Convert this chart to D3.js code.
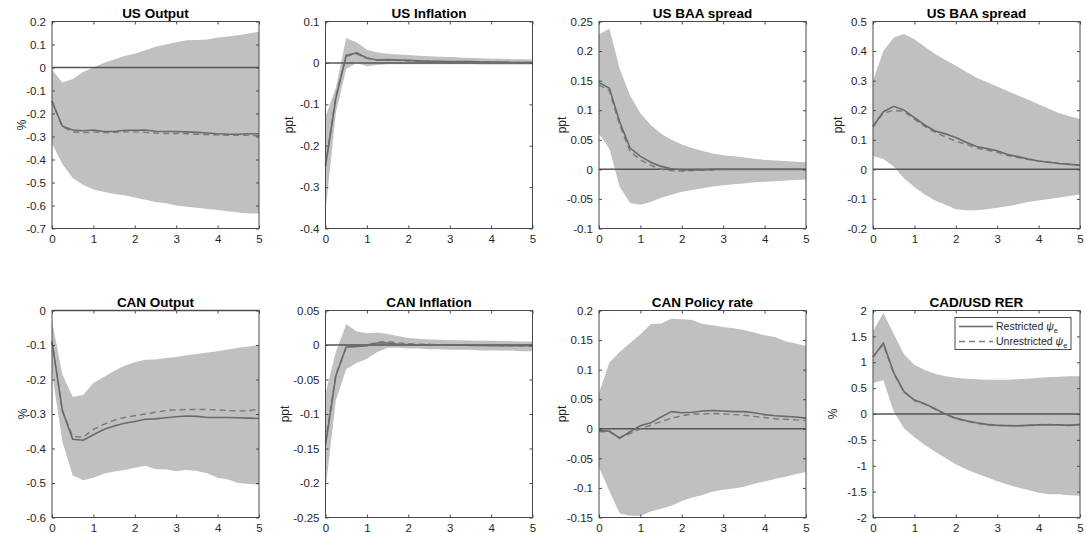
<!DOCTYPE html>
<html>
<head>
<meta charset="utf-8">
<script src="https://cdn.jsdelivr.net/npm/d3@7/dist/d3.min.js"></script>
<style>
  body { margin: 0; background: #fff; }
  text { font-family: "Liberation Sans", Arial, Helvetica, sans-serif; }
</style>
</head>
<body>
<svg id="chart" width="1086" height="533"></svg>
<script>
// quarterly horizon, in years
const horizon = [0, 0.25, 0.5, 0.75, 1, 1.25, 1.5, 1.75, 2, 2.25, 2.5, 2.75, 3, 3.25, 3.5, 3.75, 4, 4.25, 4.5, 4.75, 5];
const xTicks = [0, 1, 2, 3, 4, 5];

// US Output
const usOutSolid  = [-0.148,-0.255,-0.272,-0.275,-0.272,-0.278,-0.278,-0.273,-0.273,-0.272,-0.277,-0.278,-0.278,-0.28,-0.282,-0.285,-0.288,-0.29,-0.29,-0.288,-0.288];
const usOutDashed = [-0.145,-0.258,-0.28,-0.283,-0.28,-0.283,-0.282,-0.28,-0.28,-0.282,-0.285,-0.287,-0.287,-0.288,-0.29,-0.292,-0.293,-0.295,-0.295,-0.295,-0.297];
const usOutHi     = [-0.01,-0.065,-0.05,-0.02,0.0,0.02,0.035,0.05,0.06,0.075,0.09,0.1,0.11,0.118,0.12,0.122,0.13,0.135,0.14,0.148,0.155];
const usOutLo     = [-0.33,-0.42,-0.48,-0.51,-0.53,-0.54,-0.55,-0.555,-0.565,-0.575,-0.585,-0.59,-0.6,-0.605,-0.61,-0.615,-0.62,-0.625,-0.63,-0.635,-0.635];

// US Inflation
const usInfSolid  = [-0.25,-0.085,0.018,0.024,0.012,0.007,0.008,0.007,0.006,0.005,0.004,0.004,0.003,0.003,0.003,0.002,0.002,0.002,0.001,0.001,0.001];
const usInfDashed = [-0.245,-0.08,0.016,0.022,0.011,0.007,0.007,0.006,0.005,0.004,0.004,0.003,0.003,0.003,0.002,0.002,0.002,0.001,0.001,0.001,0.001];
const usInfHi     = [-0.13,-0.06,0.06,0.05,0.032,0.025,0.022,0.02,0.019,0.017,0.016,0.015,0.014,0.013,0.012,0.011,0.01,0.01,0.009,0.009,0.008];
const usInfLo     = [-0.36,-0.12,-0.015,0.0,-0.008,-0.005,-0.003,-0.003,-0.003,-0.003,-0.003,-0.003,-0.003,-0.003,-0.003,-0.004,-0.004,-0.004,-0.004,-0.004,-0.004];

// US BAA spread (first)
const baa1Solid  = [0.147,0.137,0.08,0.036,0.022,0.012,0.005,0.001,-0.001,-0.001,-0.001,0,0,0,0,0,0,0,0,0,0];
const baa1Dashed = [0.143,0.133,0.075,0.03,0.016,0.007,0.0,-0.002,-0.003,-0.002,-0.001,-0.001,0,0,0,0,0,0,0,0,0];
const baa1Hi     = [0.228,0.238,0.17,0.125,0.095,0.075,0.06,0.05,0.042,0.036,0.031,0.027,0.024,0.022,0.02,0.018,0.016,0.015,0.014,0.013,0.012];
const baa1Lo     = [0.06,0.035,-0.03,-0.057,-0.06,-0.055,-0.048,-0.043,-0.038,-0.035,-0.032,-0.029,-0.027,-0.025,-0.024,-0.022,-0.021,-0.02,-0.019,-0.018,-0.017];

// US BAA spread (second)
const baa2Solid  = [0.145,0.195,0.213,0.2,0.175,0.15,0.13,0.12,0.108,0.092,0.077,0.07,0.063,0.05,0.043,0.035,0.028,0.024,0.02,0.017,0.014];
const baa2Dashed = [0.145,0.19,0.2,0.195,0.17,0.145,0.125,0.11,0.095,0.085,0.072,0.065,0.058,0.047,0.04,0.033,0.028,0.024,0.02,0.017,0.014];
const baa2Hi     = [0.3,0.4,0.445,0.458,0.44,0.415,0.39,0.37,0.35,0.33,0.31,0.295,0.28,0.265,0.25,0.235,0.22,0.205,0.19,0.18,0.17];
const baa2Lo     = [0.045,0.035,0.01,-0.03,-0.06,-0.085,-0.105,-0.12,-0.135,-0.138,-0.138,-0.135,-0.13,-0.125,-0.118,-0.11,-0.105,-0.1,-0.095,-0.09,-0.085];

// CAN Output
const canOutSolid  = [-0.09,-0.29,-0.373,-0.376,-0.36,-0.345,-0.335,-0.327,-0.322,-0.315,-0.314,-0.311,-0.308,-0.306,-0.307,-0.31,-0.31,-0.31,-0.311,-0.312,-0.313];
const canOutDashed = [-0.09,-0.29,-0.365,-0.367,-0.345,-0.33,-0.318,-0.31,-0.305,-0.3,-0.295,-0.29,-0.288,-0.287,-0.287,-0.287,-0.288,-0.29,-0.292,-0.29,-0.286];
const canOutHi     = [-0.03,-0.185,-0.25,-0.245,-0.21,-0.193,-0.175,-0.16,-0.15,-0.143,-0.142,-0.138,-0.135,-0.13,-0.126,-0.122,-0.118,-0.113,-0.108,-0.104,-0.1];
const canOutLo     = [-0.18,-0.38,-0.478,-0.492,-0.485,-0.473,-0.467,-0.462,-0.456,-0.45,-0.46,-0.46,-0.466,-0.462,-0.465,-0.472,-0.485,-0.49,-0.5,-0.503,-0.505];

// CAN Inflation
const canInfSolid  = [-0.145,-0.045,-0.003,-0.002,-0.001,0.003,0.003,0.001,0.0005,0,0,0,0,0,-0.0005,-0.0005,-0.001,-0.001,-0.001,-0.001,-0.001];
const canInfDashed = [-0.14,-0.043,-0.003,-0.002,0,0.004,0.005,0.003,0.002,0.001,0.001,0,0,0,0,-0.0005,-0.0005,-0.001,-0.001,-0.001,-0.001];
const canInfHi     = [-0.07,-0.01,0.03,0.02,0.017,0.018,0.016,0.013,0.01,0.009,0.008,0.0075,0.007,0.0068,0.0065,0.0062,0.006,0.0057,0.0055,0.0052,0.005];
const canInfLo     = [-0.21,-0.08,-0.035,-0.026,-0.02,-0.01,-0.004,-0.004,-0.005,-0.005,-0.006,-0.006,-0.007,-0.007,-0.007,-0.008,-0.008,-0.008,-0.008,-0.009,-0.009];

// CAN Policy rate
const canPolSolid  = [-0.003,-0.004,-0.016,-0.005,0.005,0.01,0.02,0.029,0.027,0.028,0.03,0.031,0.03,0.029,0.029,0.027,0.024,0.022,0.021,0.02,0.018];
const canPolDashed = [-0.005,-0.005,-0.015,-0.008,0.0,0.006,0.012,0.018,0.022,0.025,0.025,0.026,0.025,0.024,0.023,0.021,0.019,0.017,0.016,0.015,0.014];
const canPolHi     = [0.06,0.112,0.13,0.145,0.16,0.177,0.178,0.186,0.185,0.184,0.177,0.175,0.172,0.17,0.167,0.163,0.158,0.155,0.148,0.144,0.14];
const canPolLo     = [-0.065,-0.105,-0.143,-0.147,-0.147,-0.14,-0.135,-0.13,-0.122,-0.116,-0.112,-0.106,-0.103,-0.101,-0.098,-0.093,-0.089,-0.085,-0.081,-0.077,-0.073];

// CAD/USD RER
const rerSolid  = [1.1,1.37,0.8,0.43,0.27,0.2,0.1,0.0,-0.08,-0.13,-0.17,-0.2,-0.22,-0.225,-0.23,-0.22,-0.21,-0.21,-0.21,-0.22,-0.2];
const rerDashed = [1.1,1.35,0.78,0.42,0.26,0.19,0.09,-0.01,-0.09,-0.14,-0.18,-0.21,-0.22,-0.225,-0.225,-0.215,-0.205,-0.2,-0.21,-0.215,-0.21];
const rerHi     = [1.6,1.95,1.55,1.15,0.95,0.85,0.78,0.73,0.7,0.68,0.67,0.66,0.66,0.66,0.67,0.68,0.7,0.71,0.72,0.73,0.73];
const rerLo     = [0.6,0.65,0.05,-0.28,-0.45,-0.6,-0.73,-0.85,-0.97,-1.07,-1.15,-1.22,-1.3,-1.36,-1.42,-1.47,-1.52,-1.55,-1.55,-1.57,-1.58];

const panels = [
  { title: "US Output",      unit: "%",   yTicks: [-0.7,-0.6,-0.5,-0.4,-0.3,-0.2,-0.1,0,0.1,0.2], solid: usOutSolid, dashed: usOutDashed, hi: usOutHi, lo: usOutLo },
  { title: "US Inflation",   unit: "ppt", yTicks: [-0.4,-0.3,-0.2,-0.1,0,0.1], solid: usInfSolid, dashed: usInfDashed, hi: usInfHi, lo: usInfLo },
  { title: "US BAA spread",  unit: "ppt", yTicks: [-0.1,-0.05,0,0.05,0.1,0.15,0.2,0.25], solid: baa1Solid, dashed: baa1Dashed, hi: baa1Hi, lo: baa1Lo },
  { title: "US BAA spread",  unit: "ppt", yTicks: [-0.2,-0.1,0,0.1,0.2,0.3,0.4,0.5], solid: baa2Solid, dashed: baa2Dashed, hi: baa2Hi, lo: baa2Lo },
  { title: "CAN Output",     unit: "%",   yTicks: [-0.6,-0.5,-0.4,-0.3,-0.2,-0.1,0], solid: canOutSolid, dashed: canOutDashed, hi: canOutHi, lo: canOutLo },
  { title: "CAN Inflation",  unit: "ppt", yTicks: [-0.25,-0.2,-0.15,-0.1,-0.05,0,0.05], solid: canInfSolid, dashed: canInfDashed, hi: canInfHi, lo: canInfLo },
  { title: "CAN Policy rate",unit: "ppt", yTicks: [-0.15,-0.1,-0.05,0,0.05,0.1,0.15,0.2], solid: canPolSolid, dashed: canPolDashed, hi: canPolHi, lo: canPolLo },
  { title: "CAD/USD RER",    unit: "%",   yTicks: [-2,-1.5,-1,-0.5,0,0.5,1,1.5,2], solid: rerSolid, dashed: rerDashed, hi: rerHi, lo: rerLo, legend: true }
];

const svg = d3.select("#chart");
const lefts = [52, 325.5, 599, 873];
const tops = [21.5, 310.5];
const pw = 207, ph = 207;
// distance of the rotated unit label from the left axis
const unitGap = [30, 37, 37, 35, 29, 41, 37, 40];
const fmt = d => String(+d.toFixed(3));
const axisColor = "#4a4a4a";

panels.forEach((p, i) => {
  const x0 = lefts[i % 4], y0 = tops[Math.floor(i / 4)];
  const g = svg.append("g").attr("transform", `translate(${x0},${y0})`);

  const x = d3.scaleLinear().domain([0, 5]).range([0, pw]);
  const y = d3.scaleLinear().domain(d3.extent(p.yTicks)).range([ph, 0]);

  // confidence band
  const area = d3.area()
      .x((d, k) => x(horizon[k]))
      .y0((d, k) => y(p.lo[k]))
      .y1((d, k) => y(p.hi[k]));
  g.append("path").datum(p.hi).attr("d", area).attr("fill", "#c0c0c0");

  // zero line
  g.append("line")
      .attr("x1", 0).attr("x2", pw)
      .attr("y1", y(0)).attr("y2", y(0))
      .attr("stroke", "#555").attr("stroke-width", 1.5);

  const line = d3.line().x((d, k) => x(horizon[k])).y(d => y(d));
  g.append("path").datum(p.dashed).attr("d", line)
      .attr("fill", "none").attr("stroke", "#7a7a7a")
      .attr("stroke-width", 1.4).attr("stroke-dasharray", "6,4");
  g.append("path").datum(p.solid).attr("d", line)
      .attr("fill", "none").attr("stroke", "#6a6a6a").attr("stroke-width", 1.6);

  // axes (MATLAB style: inward ticks, box on)
  g.append("g")
      .call(d3.axisLeft(y).tickValues(p.yTicks).tickFormat(fmt).tickSize(-3).tickPadding(6).tickSizeOuter(0));
  g.append("g").attr("transform", `translate(${pw},0)`)
      .call(d3.axisRight(y).tickValues(p.yTicks).tickFormat("").tickSize(-3).tickSizeOuter(0));
  g.append("g").attr("transform", `translate(0,${ph})`)
      .call(d3.axisBottom(x).tickValues(xTicks).tickFormat(fmt).tickSize(-3).tickPadding(6).tickSizeOuter(0));
  g.append("g")
      .call(d3.axisTop(x).tickValues(xTicks).tickFormat("").tickSize(-3).tickSizeOuter(0));
  g.selectAll(".domain").remove();
  g.selectAll(".tick line").attr("stroke", axisColor);
  g.selectAll(".tick text").attr("fill", "#262626").style("font-size", "11.5px");

  g.append("rect").attr("width", pw).attr("height", ph)
      .attr("fill", "none").attr("stroke", axisColor).attr("stroke-width", 1);

  g.append("text")
      .attr("x", pw / 2).attr("y", -4)
      .attr("text-anchor", "middle")
      .style("font-size", "13.5px").style("font-weight", "bold")
      .text(p.title);

  g.append("text")
      .attr("transform", `translate(${-unitGap[i] + 4},${ph / 2}) rotate(-90)`)
      .attr("text-anchor", "middle")
      .attr("fill", "#262626")
      .style("font-size", "12px")
      .text(p.unit);

  if (p.legend) {
    const lg = g.append("g").attr("transform", `translate(${pw - 125},7)`);
    lg.append("rect").attr("width", 116).attr("height", 32)
        .attr("fill", "#fff").attr("stroke", axisColor);
    const items = [["Restricted ", "none", "#6a6a6a"], ["Unrestricted ", "6,4", "#7a7a7a"]];
    items.forEach((it, k) => {
      const yy = 9 + k * 15;
      lg.append("line").attr("x1", 4).attr("x2", 38).attr("y1", yy).attr("y2", yy)
          .attr("stroke", it[2]).attr("stroke-width", 1.4).attr("stroke-dasharray", it[1]);
      const t = lg.append("text").attr("x", 41).attr("y", yy + 3.5)
          .attr("fill", "#262626").style("font-size", "10.5px");
      t.append("tspan").text(it[0]);
      t.append("tspan").style("font-style", "italic").text("ψ");
      t.append("tspan").attr("dy", 3).style("font-size", "7.5px").text("e");
    });
  }
});
</script>
</body>
</html>
